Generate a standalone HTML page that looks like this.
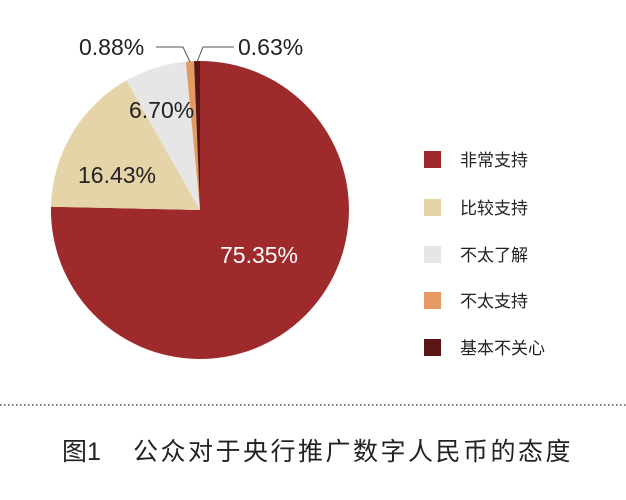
<!DOCTYPE html>
<html><head><meta charset="utf-8"><style>
body{margin:0;background:#fff;}
</style></head><body>
<svg width="626" height="500" viewBox="0 0 626 500" xmlns="http://www.w3.org/2000/svg" style="display:block;font-family:'Liberation Sans','Noto Sans CJK SC',sans-serif">
<rect width="626" height="500" fill="#fff"/>
<path d="M200,210 L200,61 A149,149 0 1 1 51,206.7 Z" fill="#9e2a2b"/>
<path d="M200,210 L51,206.7 A149,149 0 0 1 126.4,80.4 Z" fill="#e6d4a9"/>
<path d="M200,210 L126.4,80.4 A149,149 0 0 1 185.8,61.7 Z" fill="#e6e6e6"/>
<path d="M200,210 L185.8,61.7 A149,149 0 0 1 194,61.1 Z" fill="#e59a64"/>
<path d="M200,210 L194,61.1 A149,149 0 0 1 200,61 Z" fill="#5a1515"/>
<polyline points="156,47 183,47 190,62" fill="none" stroke="#555" stroke-width="1"/>
<polyline points="234,47 203,47 197,62" fill="none" stroke="#555" stroke-width="1"/>
<g font-size="23" fill="#222">
<text x="79" y="55">0.88%</text>
<text x="238" y="55">0.63%</text>
<text x="129" y="118">6.70%</text>
<text x="78" y="183">16.43%</text>
<text x="220" y="263" fill="#fff">75.35%</text>
</g>
<g font-size="17" fill="#222">
<rect x="424" y="151" width="17" height="17" fill="#9e2a2b"/><text x="460" y="166">非常支持</text>
<rect x="424" y="199" width="17" height="17" fill="#e6d4a9"/><text x="460" y="214">比较支持</text>
<rect x="424" y="246" width="17" height="17" fill="#e6e6e6"/><text x="460" y="261">不太了解</text>
<rect x="424" y="292" width="17" height="17" fill="#e59a64"/><text x="460" y="307">不太支持</text>
<rect x="424" y="339" width="17" height="17" fill="#5a1515"/><text x="460" y="354">基本不关心</text>
</g>
<line x1="0" y1="405" x2="626" y2="405" stroke="#555" stroke-width="1.5" stroke-dasharray="1.5,2.5"/>
<text x="62" y="460" font-size="25" fill="#222">图1<tspan x="133" letter-spacing="2.5">公众对于央行推广数字人民币的态度</tspan></text>
</svg>
</body></html>
